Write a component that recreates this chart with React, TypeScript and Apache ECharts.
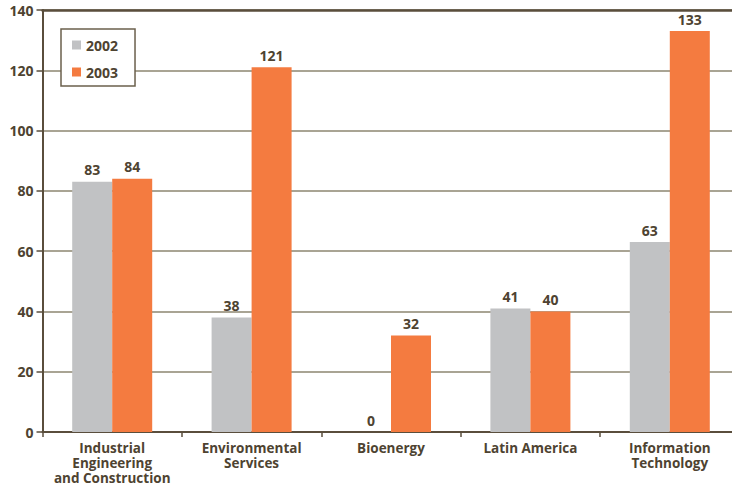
import React, { useEffect, useRef } from "react";
import * as echarts from "echarts";

const categories = [
  "Industrial\nEngineering\nand Construction",
  "Environmental\nServices",
  "Bioenergy",
  "Latin America",
  "Information\nTechnology",
];
const values2002 = [83, 38, 0, 41, 63];
const values2003 = [84, 121, 32, 40, 133];
const seriesNames = ["2002", "2003"];
const yTicks = { min: 0, max: 140, interval: 20 };

const TEXT = "#4e4331";
const FONT = "'Open Sans', 'Noto Sans', sans-serif";

export default function App() {
  const ref = useRef<HTMLDivElement>(null);
  useEffect(() => {
    if (!ref.current) return;
    const chart = echarts.init(ref.current, undefined, { renderer: "svg" });
    const label = {
      show: true,
      position: "top" as const,
      distance: 5,
      color: TEXT,
      fontWeight: "bold" as const,
      fontSize: 14,
      fontFamily: FONT,
    };
    chart.setOption({
      animation: false,
      backgroundColor: "#ffffff",
      textStyle: { fontFamily: FONT },
      grid: {
        left: 42.5,
        width: 697,
        top: 10,
        height: 422,
        containLabel: false,
        outerBoundsMode: "none",
      },
      legend: {
        orient: "vertical",
        left: 61,
        top: 29,
        padding: [9, 17, 7, 11],
        itemGap: 13,
        itemWidth: 9,
        itemHeight: 9,
        backgroundColor: "#ffffff",
        borderColor: "#6b604c",
        borderWidth: 1.5,
        borderRadius: 0,
        icon: "rect",
        textStyle: { color: TEXT, fontWeight: "bold", fontSize: 14, fontFamily: FONT },
        data: seriesNames,
      },
      xAxis: [
        {
          type: "category",
          data: categories,
          axisLine: { show: true, lineStyle: { color: "#5a4e3c", width: 2 } },
          axisTick: { show: true, length: 5, lineStyle: { color: "#5a4e3c", width: 1.5 } },
          axisLabel: {
            color: TEXT,
            fontWeight: "bold",
            fontSize: 13.5,
            fontFamily: FONT,
            lineHeight: 15,
            margin: 8,
            interval: 0,
          },
        },
        {
          type: "category",
          position: "top",
          data: categories,
          axisLine: { show: true, lineStyle: { color: "#5a4e3c", width: 2.5 } },
          axisTick: { show: false },
          axisLabel: { show: false },
        },
      ],
      yAxis: {
        type: "value",
        min: yTicks.min,
        max: yTicks.max,
        interval: yTicks.interval,
        axisLine: { show: true, lineStyle: { color: "#5a4e3c", width: 2 } },
        axisTick: { show: true, length: 6, lineStyle: { color: "#5a4e3c", width: 1.5 } },
        axisLabel: {
          color: TEXT,
          fontWeight: "bold",
          fontSize: 14,
          fontFamily: FONT,
          margin: 9,
        },
        splitLine: { show: true, lineStyle: { color: "#8c8670", width: 1.5 } },
      },
      series: [
        {
          name: seriesNames[0],
          type: "bar",
          data: values2002,
          barWidth: 40,
          barGap: "0%",
          itemStyle: { color: "#c1c2c4" },
          label,
          z: 3,
        },
        {
          name: seriesNames[1],
          type: "bar",
          data: values2003,
          barWidth: 40,
          barGap: "0%",
          itemStyle: { color: "#f47b40" },
          label,
          z: 3,
        },
      ],
    });
    return () => chart.dispose();
  }, []);
  return (
    <div
      ref={ref}
      style={{ position: "fixed", left: 0, top: 0, width: 732, height: 486, overflow: "hidden" }}
    />
  );
}
